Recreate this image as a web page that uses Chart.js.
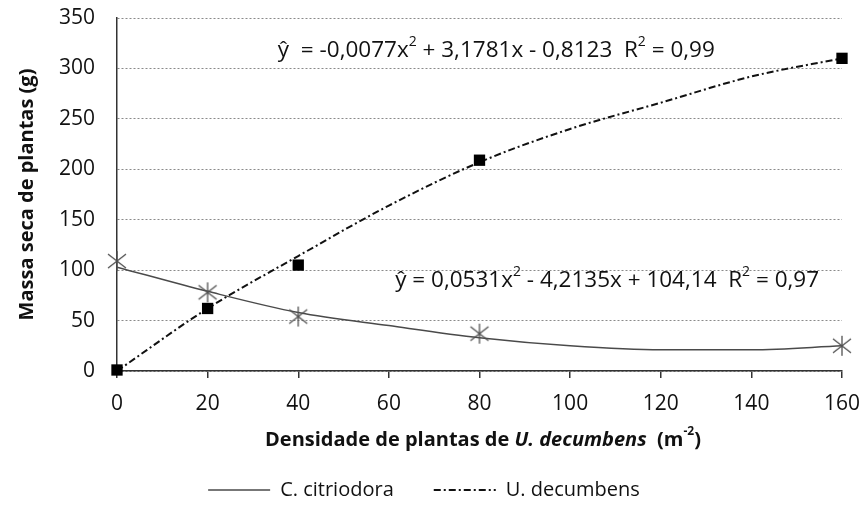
<!DOCTYPE html>
<html>
<head>
<meta charset="utf-8">
<script src="https://cdn.jsdelivr.net/npm/chart.js@4.4.0/dist/chart.umd.min.js"></script>
<style>
  html, body { margin: 0; padding: 0; background: #fff; }
  #wrap { width: 864px; height: 520px; }
</style>
</head>
<body>
<div id="wrap"><canvas id="chart" width="864" height="520"></canvas></div>
<script>
// observed points
const densities = [0, 20, 40, 80, 160];
const citriodoraObs = [109, 78, 54, 37, 25];
const decumbensObs = [1, 62, 105, 209, 310];

// fitted curves, every 20 plants
const fitDensities = [0, 20, 40, 60, 80, 100, 120, 140, 160];
const citriodoraFit = [103, 79, 58, 45, 33, 25, 21, 21, 25];
const decumbensFit = [0, 62, 114, 164, 207, 240, 266, 292, 310];

const seriesNames = ["C. citriodora", "U. decumbens"];

// regression labels: [text, isSuperscript]
const eqDecumbens = [["ŷ  = -0,0077x", 0], ["2", 1], [" + 3,1781x - 0,8123  R", 0], ["2", 1], [" = 0,99", 0]];
const eqCitriodora = [["ŷ = 0,0531x", 0], ["2", 1], [" - 4,2135x + 104,14  R", 0], ["2", 1], [" = 0,97", 0]];

const FONT = "'Open Sans', sans-serif";
const DASH_DOT = [7, 3, 2, 3];
const toXY = (xs, ys) => xs.map((x, i) => ({ x: x, y: ys[i] }));

// asterisk marker: X plus a vertical bar
function makeStar() {
    const c = document.createElement("canvas");
    c.width = 22; c.height = 22;
    const g = c.getContext("2d");
    g.strokeStyle = "#505050";
    g.lineWidth = 1.3;
    g.beginPath();
    g.moveTo(11, 1); g.lineTo(11, 21);
    g.moveTo(2, 4); g.lineTo(20, 18);
    g.moveTo(2, 18); g.lineTo(20, 4);
    g.stroke();
    return c;
}

function drawPieces(ctx, pieces, x, y, size) {
    pieces.forEach(p => {
        if (p[1]) {
            ctx.font = `${Math.round(size * 0.62)}px ${FONT}`;
            ctx.fillText(p[0], x, y - size * 0.38);
        } else {
            ctx.font = `${size}px ${FONT}`;
            ctx.fillText(p[0], x, y);
        }
        x += ctx.measureText(p[0]).width;
    });
    return x;
}

// legend sits a bit lower with wide gaps between items
const legendFit = {
    id: "legendFit",
    afterInit(chart) {
        const lg = chart.legend;
        const orig = lg.fit.bind(lg);
        lg.fit = function () { orig(); this.height = 76; };
    }
};

// equations and x axis title (mixed italic)
const textPlugin = {
    id: "textPlugin",
    afterDraw(chart) {
        const ctx = chart.ctx;
        const xs = chart.scales.x, ys = chart.scales.y;
        ctx.save();
        ctx.fillStyle = "#111";
        ctx.textBaseline = "middle";
        ctx.textAlign = "left";
        drawPieces(ctx, eqDecumbens, xs.getPixelForValue(35.5), ys.getPixelForValue(318), 22.5);
        drawPieces(ctx, eqCitriodora, xs.getPixelForValue(61.4), ys.getPixelForValue(90), 22.5);

        // x axis title
        const parts = [
            ["Densidade de plantas de ", "bold"],
            ["U. decumbens", "italic bold"],
            ["  (m", "bold"],
            ["-2", "sup"],
            [")", "bold"]
        ];
        const size = 20;
        const fontFor = s => s === "sup" ? `bold ${Math.round(size * 0.62)}px ${FONT}` : `${s} ${size}px ${FONT}`;
        let total = 0;
        parts.forEach(p => { ctx.font = fontFor(p[1]); total += ctx.measureText(p[0]).width; });
        let x = 483 - total / 2;
        const y = chart.chartArea.bottom + 69;
        parts.forEach(p => {
            ctx.font = fontFor(p[1]);
            ctx.fillText(p[0], x, p[1] === "sup" ? y - 8 : y);
            x += ctx.measureText(p[0]).width;
        });
        ctx.restore();
    }
};

const ctx = document.getElementById("chart").getContext("2d");
new Chart(ctx, {
    type: "scatter",
    data: {
        datasets: [
            {
                label: seriesNames[0],
                data: toXY(fitDensities, citriodoraFit),
                showLine: true,
                borderColor: "#4a4a4a",
                borderWidth: 1.5,
                pointRadius: 0,
                pointStyle: "line",
                cubicInterpolationMode: "monotone",
                order: 2
            },
            {
                label: seriesNames[1],
                data: toXY(fitDensities, decumbensFit),
                showLine: true,
                borderColor: "#111",
                borderWidth: 2,
                borderDash: DASH_DOT,
                pointRadius: 0,
                pointStyle: "line",
                cubicInterpolationMode: "monotone",
                order: 2
            },
            {
                label: "obs1",
                data: toXY(densities, citriodoraObs),
                pointStyle: makeStar(),
                pointRadius: 10,
                clip: false,
                order: 1
            },
            {
                label: "obs2",
                data: toXY(densities, decumbensObs),
                pointStyle: "rect",
                pointRadius: 8,
                borderColor: "#000",
                backgroundColor: "#000",
                borderWidth: 0,
                clip: false,
                order: 1
            }
        ]
    },
    options: {
        responsive: false,
        animation: false,
        layout: { padding: { left: 6, right: 22, top: 18, bottom: 4 } },
        scales: {
            x: {
                type: "linear",
                min: 0,
                max: 160,
                ticks: { stepSize: 20, color: "#111", font: { family: FONT, size: 21 }, padding: 13 },
                grid: { drawOnChartArea: false, drawTicks: true, tickLength: 7, color: "#333", lineWidth: 1.5 },
                border: { display: true, color: "#333", width: 1.5 },
                afterFit(scale) {
                    const lg = scale.chart.legend ? scale.chart.legend.height : 0;
                    scale.height = 520 - 371 - 4 - lg;
                    scale.paddingLeft = 0;
                    scale.paddingRight = 0;
                }
            },
            y: {
                min: 0,
                max: 350,
                ticks: { stepSize: 50, color: "#111", font: { family: FONT, size: 21 }, padding: 22 },
                grid: { drawTicks: false, color: "#8a8a8a", lineWidth: 1 },
                border: { display: true, color: "#333", width: 1.5, dash: [2, 2] },
                title: {
                    display: true,
                    text: "Massa seca de plantas (g)",
                    color: "#111",
                    font: { family: FONT, size: 20, weight: "bold" },
                    padding: 9
                },
                afterFit(scale) {
                    scale.width = 117 - 6;
                    scale.paddingTop = 0;
                    scale.paddingBottom = 0;
                }
            }
        },
        plugins: {
            tooltip: { enabled: false },
            legend: {
                position: "bottom",
                labels: {
                    usePointStyle: true,
                    pointStyleWidth: 62,
                    color: "#111",
                    font: { family: FONT, size: 20 },
                    padding: 40,
                    generateLabels(chart) {
                        return chart.data.datasets.slice(0, 2).map((ds, i) => ({
                            text: ds.label,
                            datasetIndex: i,
                            pointStyle: "line",
                            strokeStyle: ds.borderColor,
                            fillStyle: ds.borderColor,
                            lineWidth: ds.borderWidth,
                            lineDash: ds.borderDash || [],
                            fontColor: "#111",
                            hidden: false
                        }));
                    }
                }
            }
        }
    },
    plugins: [legendFit, textPlugin]
});
</script>
</body>
</html>
